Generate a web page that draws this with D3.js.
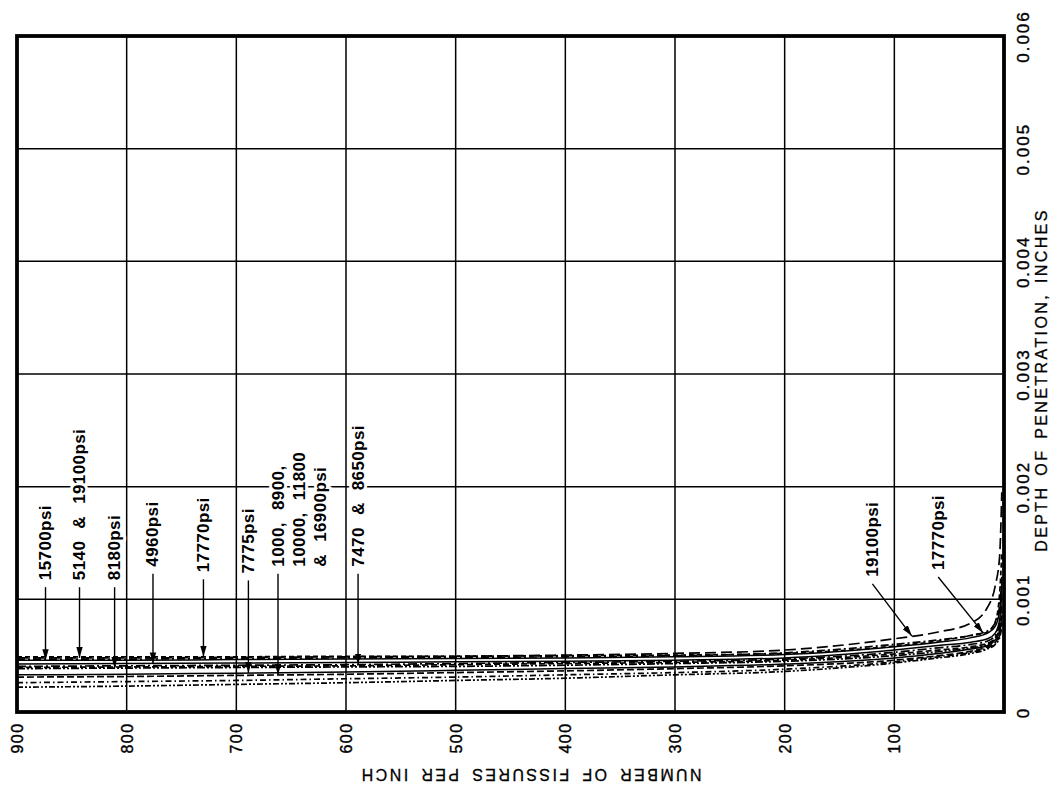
<!DOCTYPE html>
<html>
<head>
<meta charset="utf-8">
<script src="https://cdn.jsdelivr.net/npm/d3@7"></script>
<style>
  body { margin: 0; background: #fff; }
  svg { display: block; font-family: "Liberation Sans", Arial, sans-serif; }
</style>
</head>
<body>
<svg id="chart" width="1052" height="794"></svg>
<script>
// fissures per inch (horizontal, 900 at left) vs depth of penetration (x1e-4 in)
const FISSURES = [900, 800, 700, 600, 500, 400, 300, 200, 100, 60, 30, 15, 8, 4, 2];
const CURVE_NAMES = ["19100", "5140", "15700", "17770", "4960", "7470", "8650", "8180",
  "7775", "1000/8900", "10000/11800", "16900"];
const CURVE_DEPTHS = [
  [4.8, 4.8, 4.85, 4.9, 4.95, 5.05, 5.2, 5.5, 6.5, 7.1, 7.9, 9.3, 11.2, 13.8, 19.5],
  [4.7, 4.7, 4.75, 4.8, 4.85, 4.9, 5.0, 5.25, 6.0, 6.4, 6.8, 7.2, 7.9, 9.4, 12.0],
  [4.6, 4.6, 4.65, 4.7, 4.75, 4.8, 4.9, 5.1, 5.8, 6.2, 6.6, 7.0, 7.6, 9.0, 11.5],
  [4.9, 4.9, 4.9, 4.95, 4.95, 5.0, 5.05, 5.2, 5.85, 6.3, 6.8, 7.1, 8.0, 10.5, 14.0],
  [4.25, 4.3, 4.35, 4.4, 4.45, 4.5, 4.6, 4.8, 5.5, 5.9, 6.2, 6.5, 7.0, 8.2, 10.5],
  [4.05, 4.1, 4.15, 4.2, 4.3, 4.4, 4.5, 4.7, 5.3, 5.7, 6.0, 6.3, 6.8, 7.8, 9.5],
  [3.95, 4.0, 4.05, 4.1, 4.2, 4.3, 4.4, 4.6, 5.15, 5.5, 5.8, 6.1, 6.6, 7.5, 9.0],
  [3.85, 3.9, 3.95, 4.0, 4.05, 4.15, 4.3, 4.5, 5.0, 5.35, 5.7, 6.0, 6.5, 7.3, 8.5],
  [3.3, 3.35, 3.45, 3.55, 3.7, 3.85, 4.0, 4.25, 4.8, 5.2, 5.6, 5.9, 6.4, 7.2, 8.5],
  [3.1, 3.15, 3.25, 3.35, 3.5, 3.65, 3.85, 4.1, 4.6, 5.0, 5.4, 5.8, 6.2, 7.0, 8.0],
  [2.6, 2.7, 2.8, 2.95, 3.1, 3.3, 3.5, 3.8, 4.45, 4.9, 5.3, 5.7, 6.1, 6.8, 7.8],
  [2.2, 2.3, 2.45, 2.6, 2.8, 3.0, 3.3, 3.6, 4.35, 4.8, 5.2, 5.6, 6.0, 6.6, 7.5]
];
const FISSURE_TICKS = [900, 800, 700, 600, 500, 400, 300, 200, 100];
const DEPTH_TICKS = [0, 0.001, 0.002, 0.003, 0.004, 0.005, 0.006];

// annotations: label lines, fissure position, target curve, depth of text foot (x1e-4 in)
const LEFT_LABELS = [["15700psi"], ["5140 & 19100psi"], ["8180psi"], ["4960psi"], ["17770psi"],
  ["7775psi"], ["1000,  8900,", "10000, 11800", "& 16900psi"], ["7470 & 8650psi"]];
const LEFT_AT = [874, 843, 811, 776, 730, 689, 662, 589];
const LEFT_CURVE = [2, 0, 7, 4, 3, 8, 9, 5];
const LEFT_FOOT = [11.7, 11.7, 11.7, 12.9, 12.4, 12.3, 12.9, 12.9];
const RIGHT_LABELS = ["19100psi", "17770psi"];
const RIGHT_TEXT_AT = [120, 60];
const RIGHT_FOOT = [12.0, 12.6];
const RIGHT_CURVE = [0, 3];
const RIGHT_TIP_AT = [84, 19];

const DASHES = ["11,5", "8,3,2,3", null, "5,3", null, "9,3,2,3", "6,3", "8,2,2,2,2,2",
  null, "7,3", "6,3,1.5,3", "6,2,2,2,2,2"];

const PX = { left: 17, right: 1004, top: 36, bottom: 712 };
const svg = d3.select("#chart");

const x = d3.scaleLinear().domain([900, 0]).range([PX.left, PX.right]);
const y = d3.scaleLinear().domain([0, 0.006]).range([PX.bottom, PX.top]);
const dep = v => v * 1e-4;

// grid
svg.append("g")
  .selectAll("line").data(FISSURE_TICKS.filter(d => d !== 900)).join("line")
  .attr("x1", d => x(d)).attr("x2", d => x(d))
  .attr("y1", PX.top).attr("y2", PX.bottom)
  .attr("stroke", "#000").attr("stroke-width", 1.5);
svg.append("g")
  .selectAll("line").data(DEPTH_TICKS.filter(d => d > 0 && d < 0.006)).join("line")
  .attr("x1", PX.left).attr("x2", PX.right)
  .attr("y1", d => y(d)).attr("y2", d => y(d))
  .attr("stroke", "#000").attr("stroke-width", 1.5);

// curves
const defs = svg.append("defs");
defs.append("clipPath").attr("id", "plotclip")
  .append("rect").attr("x", PX.left).attr("y", PX.top)
  .attr("width", PX.right - PX.left).attr("height", PX.bottom - PX.top);

const line = d3.line()
  .x((d, i) => x(FISSURES[i]))
  .y(d => y(dep(d)))
  .curve(d3.curveMonotoneX);

svg.append("g").attr("clip-path", "url(#plotclip)")
  .selectAll("path").data(CURVE_DEPTHS).join("path")
  .attr("d", line)
  .attr("fill", "none")
  .attr("stroke", "#000")
  .attr("stroke-width", (d, i) => DASHES[i] ? 1.7 : 1.5)
  .attr("stroke-dasharray", (d, i) => DASHES[i]);

// frame
svg.append("rect")
  .attr("x", PX.left).attr("y", PX.top)
  .attr("width", PX.right - PX.left).attr("height", PX.bottom - PX.top)
  .attr("fill", "none").attr("stroke", "#000").attr("stroke-width", 3.8);

// axes
const xAxis = svg.append("g").attr("transform", `translate(0,${PX.bottom})`)
  .call(d3.axisBottom(x).tickValues(FISSURE_TICKS).tickSize(0).tickFormat(d3.format("d")));
xAxis.select(".domain").remove();
xAxis.attr("font-family", null);
xAxis.selectAll("text")
  .attr("x", 0).attr("y", 0).attr("dy", "0.35em")
  .attr("transform", "translate(0,26) rotate(-90)")
  .attr("text-anchor", "middle")
  .style("font-size", "16px").style("letter-spacing", "1.5px")
  .attr("fill", "#000").attr("stroke", "#000").attr("stroke-width", 0.4);

const yAxis = svg.append("g").attr("transform", `translate(${PX.right},0)`)
  .call(d3.axisRight(y).tickValues(DEPTH_TICKS).tickSize(0)
    .tickFormat(d => d === 0 ? "0" : d3.format(".3f")(d)));
yAxis.select(".domain").remove();
yAxis.attr("font-family", null);
yAxis.selectAll("text")
  .attr("x", 0).attr("y", 0).attr("dy", "0.35em")
  .attr("transform", "translate(19,0) rotate(-90)")
  .attr("text-anchor", "middle")
  .style("font-size", "17px").style("letter-spacing", "2px")
  .attr("fill", "#000").attr("stroke", "#000").attr("stroke-width", 0.4);

svg.append("text")
  .attr("transform", `translate(${(PX.left + PX.right) / 2 + 20},774) rotate(180)`)
  .attr("text-anchor", "middle").attr("dominant-baseline", "central")
  .style("font-size", "16px").style("letter-spacing", "2.4px").style("word-spacing", "4px")
  .attr("fill", "#000").attr("stroke", "#000").attr("stroke-width", 0.3)
  .text("NUMBER OF FISSURES PER INCH");

svg.append("text")
  .attr("transform", `translate(1041,${(PX.top + PX.bottom) / 2 + 6}) rotate(-90)`)
  .attr("text-anchor", "middle").attr("dominant-baseline", "central")
  .style("font-size", "16px").style("letter-spacing", "2.4px").style("word-spacing", "3px")
  .attr("fill", "#000").attr("stroke", "#000").attr("stroke-width", 0.3)
  .text("DEPTH OF PENETRATION, INCHES");

// arrows
defs.append("marker")
  .attr("id", "arrow").attr("markerUnits", "userSpaceOnUse")
  .attr("viewBox", "0 0 11 8").attr("markerWidth", 11).attr("markerHeight", 8)
  .attr("refX", 11).attr("refY", 4).attr("orient", "auto")
  .append("path").attr("d", "M0,0.8 L11,4 L0,7.2 Z").attr("fill", "#000");

const curveAt = (ci, f) => d3.scaleLinear().domain(FISSURES).range(CURVE_DEPTHS[ci])(f);

function label(g, lines, cx, footY) {
  lines.forEach((s, k) => {
    g.append("text")
      .attr("transform", `translate(${cx + k * 21},${footY}) rotate(-90)`)
      .attr("dominant-baseline", "central")
      .style("font-size", "17px").style("font-weight", "bold")
      .style("letter-spacing", "0.4px").style("word-spacing", "7px")
      .attr("fill", "#000")
      .attr("stroke", "#fff").attr("stroke-width", 6).attr("paint-order", "stroke")
      .attr("stroke-linejoin", "round")
      .text(s);
  });
}

const ann = svg.append("g");
LEFT_LABELS.forEach((lines, i) => {
  const cx = x(LEFT_AT[i]);
  const footY = y(dep(LEFT_FOOT[i]));
  label(ann, lines, cx, footY);
  ann.append("line")
    .attr("x1", cx).attr("x2", cx)
    .attr("y1", footY + 7).attr("y2", y(dep(curveAt(LEFT_CURVE[i], LEFT_AT[i]))))
    .attr("stroke", "#000").attr("stroke-width", 1.4)
    .attr("marker-end", "url(#arrow)");
});
RIGHT_LABELS.forEach((s, i) => {
  const cx = x(RIGHT_TEXT_AT[i]);
  const footY = y(dep(RIGHT_FOOT[i]));
  label(ann, [s], cx, footY);
  ann.append("line")
    .attr("x1", cx).attr("y1", footY + 7)
    .attr("x2", x(RIGHT_TIP_AT[i])).attr("y2", y(dep(curveAt(RIGHT_CURVE[i], RIGHT_TIP_AT[i]))))
    .attr("stroke", "#000").attr("stroke-width", 1.4)
    .attr("marker-end", "url(#arrow)");
});
</script>
</body>
</html>
